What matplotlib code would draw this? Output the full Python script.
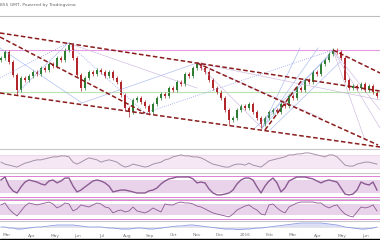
import matplotlib
matplotlib.use("Agg")
import matplotlib.pyplot as plt
import numpy as np

# daily-ish candles, one every 4 px (bar index), price in chart units
closes = [90, 96, 86, 73, 58, 70, 68, 72, 76, 74,
          80, 78, 84, 82, 90, 88, 98, 103, 90, 73,
          60, 70, 76, 74, 78, 76, 72, 76, 70, 66,
          53, 40, 36, 48, 50, 46, 42, 36, 44, 50,
          54, 52, 60, 58, 66, 64, 74, 72, 80, 84,
          80, 76, 68, 60, 56, 50, 38, 28, 30, 38,
          42, 40, 44, 36, 30, 24, 30, 36, 38, 36,
          44, 42, 52, 50, 60, 58, 68, 66, 76, 74,
          84, 88, 94, 98, 96, 90, 68, 60, 62, 60,
          64, 58, 62, 56, 52]
highs = [92, 98, 98, 88, 75, 72, 72, 74, 78, 78,
         82, 82, 86, 86, 92, 92, 100, 106, 105, 92,
         75, 72, 78, 78, 80, 80, 78, 78, 78, 72,
         68, 55, 42, 50, 52, 52, 48, 44, 46, 52,
         56, 56, 62, 62, 68, 68, 76, 76, 82, 86,
         86, 82, 78, 70, 62, 58, 52, 40, 32, 40,
         44, 44, 46, 46, 38, 32, 32, 38, 40, 40,
         46, 46, 54, 54, 62, 62, 70, 70, 78, 78,
         86, 90, 96, 100, 100, 98, 92, 70, 64, 64,
         66, 66, 64, 64, 58]
lows = [86, 88, 84, 71, 53, 56, 66, 66, 70, 72,
        72, 76, 76, 80, 80, 86, 86, 96, 88, 71,
        57, 58, 68, 72, 72, 74, 70, 70, 68, 64,
        51, 38, 31, 34, 46, 44, 40, 33, 34, 42,
        48, 50, 50, 56, 56, 62, 62, 70, 70, 78,
        78, 74, 66, 58, 54, 48, 36, 23, 26, 28,
        36, 38, 38, 34, 28, 20, 22, 28, 34, 34,
        34, 40, 40, 48, 48, 56, 56, 64, 64, 72,
        72, 82, 86, 92, 94, 88, 66, 58, 58, 58,
        58, 56, 56, 54, 50]
first_open = 88

rsi = [48, 42, 39, 36, 33, 39, 45, 48, 52, 55,
       55, 58, 61, 64, 64, 67, 67, 64, 48, 42,
       48, 55, 61, 58, 55, 48, 52, 55, 52, 48,
       39, 33, 36, 42, 39, 36, 33, 36, 42, 45,
       48, 55, 58, 64, 67, 70, 67, 67, 64, 64,
       61, 55, 48, 42, 39, 36, 33, 33, 39, 42,
       42, 39, 45, 39, 36, 33, 42, 52, 55, 58,
       61, 64, 70, 70, 73, 73, 76, 76, 73, 70,
       67, 64, 70, 70, 64, 52, 39, 36, 36, 42,
       45, 48, 48, 45, 42]
stoch = [81, 95, 52, 29, 19, 48, 71, 81, 76, 71,
         62, 57, 76, 81, 67, 76, 90, 90, 52, 24,
         33, 48, 62, 76, 81, 76, 67, 52, 24, 29,
         33, 33, 29, 24, 19, 19, 19, 29, 33, 43,
         62, 76, 86, 90, 95, 95, 95, 95, 86, 67,
         71, 67, 38, 19, 10, 10, 14, 19, 33, 62,
         81, 90, 90, 81, 48, 19, 52, 76, 90, 67,
         24, 43, 76, 86, 95, 95, 95, 90, 86, 76,
         67, 76, 81, 76, 71, 43, 14, 10, 14, 33,
         71, 62, 57, 71, 33]
willr = [74, 84, 53, 32, 16, 42, 68, 84, 79, 74,
         79, 84, 89, 79, 58, 68, 84, 79, 42, 53,
         74, 68, 63, 74, 84, 79, 63, 58, 32, 42,
         47, 37, 42, 63, 42, 37, 32, 42, 58, 47,
         37, 79, 74, 74, 84, 89, 84, 84, 79, 68,
         63, 53, 42, 32, 26, 21, 16, 11, 26, 47,
         58, 68, 74, 58, 47, 26, 21, 74, 79, 58,
         42, 32, 63, 74, 84, 89, 89, 89, 89, 84,
         84, 68, 58, 68, 74, 47, 26, 16, 11, 37,
         63, 58, 63, 74, 42]
macd = [0, 0, -1, -1, -2, -2, -1.5, -1, -0.5, 0,
        0, 0.5, 1, 1.5, 2, 2, 2, 2, 2, 1.5,
        1, 0.5, 0, 0, 0, 0, -0.5, -1, -1, -1.5,
        -2, -2, -2, -1.5, -1, -1, -1.5, -2, -2, -1.5,
        -1, -0.5, 0, 0.5, 1, 1, 1.5, 2, 2, 1.5,
        1, 0.5, 0, -0.5, -1, -1.5, -2, -2, -2, -2.5,
        -2.5, -2, -2, -1.5, -1, -1, -0.5, 0, 0.5, 1,
        1.5, 2, 2.5, 3, 3.5, 4, 4, 4, 4, 4,
        4, 3.5, 3, 2.5, 2, 1, 0, -0.5, -1, -1.5,
        -2, -2, -1.5, -1, 0]

month_labels = ["Mar", "Apr", "May", "Jun", "Jul", "Aug", "Sep", "Oct",
                "Nov", "Dec", "2016", "Feb", "Mar", "Apr", "May", "Jun"]
month_bars = [1.5, 7.75, 13.5, 19.25, 25.25, 31.5, 37.25, 43,
              49, 54.75, 61, 67, 73, 79.25, 85.25, 91.25]

# drawn trend lines (bar, price) -> (bar, price)
trend_lines = [((-0.25, 115), (94.75, 57)),
               ((-0.25, 55), (94.75, 1)),
               ((-0.25, 111), (36, 35)),
               ((49, 85), (94.25, 3)),
               ((66, 18), (75.25, 68)),
               ((83, 98), (94.75, 75))]
blue_lines = [((-0.25, 100), (20.25, 45)), ((20.25, 45), (49, 85)),
              ((4, 55), (16.75, 105)), ((65.25, 20), (83, 98)),
              ((63.5, 20), (82.25, 93)), ((67.25, 18), (84.75, 86)),
              ((65.25, 20), (79.25, 100)), ((65.25, 20), (74.75, 100))]
dotted_lines = [((36, 35), (83, 98)), ((16.75, 105), (36, 35)),
                ((-0.25, 70), (16.75, 105))]
purple_lines = [((49, 85), (65.25, 20)), ((83, 98), (94.75, 20)),
                ((83, 98), (94.75, 38)), ((83, 98), (91, 8)),
                ((49, 85), (94.75, 48)), ((49, 85), (80, 30)),
                ((16.75, 105), (49, 60))]
resistance = 98
support = 56

W, H = 380, 240
fig = plt.figure(figsize=(W / 100, H / 100), dpi=100)
fig.patch.set_facecolor("white")


def panel(top, bottom):
    ax = fig.add_axes([0, 1 - bottom / H, 1, (bottom - top) / H])
    ax.set_xlim(-0.25, 94.75)
    ax.set_xticks([])
    ax.set_yticks([])
    for s in ["left", "right", "bottom"]:
        ax.spines[s].set_visible(False)
    ax.spines["top"].set_color("#c8c8c8")
    ax.spines["top"].set_linewidth(0.8)
    return ax


x = np.arange(len(closes))
opens = [first_open] + closes[:-1]

ax = panel(17, 148)
ax.set_ylim(0, 131)
ax.spines["top"].set_visible(False)
ax.axhline(resistance, color="#e59be0", lw=0.8)
ax.axhline(support, color="#b9e3b0", lw=0.8)
for (a, b) in blue_lines:
    ax.plot([a[0], b[0]], [a[1], b[1]], color="#9db0ee", lw=0.5, alpha=0.8)
for (a, b) in dotted_lines:
    ax.plot([a[0], b[0]], [a[1], b[1]], color="#8e9de8", lw=0.6, ls=":")
for (a, b) in purple_lines:
    ax.plot([a[0], b[0]], [a[1], b[1]], color="#c7b0dc", lw=0.5, alpha=0.8)
for o, c, h, l, i in zip(opens, closes, highs, lows, x):
    col = "#2f7d32" if c >= o else "#b0262a"
    ax.vlines(i, l, h, color=col, lw=0.5)
    ax.bar(i, max(abs(c - o), 0.8), bottom=min(o, c), width=0.55, color=col, lw=0)
for (a, b) in trend_lines:
    ax.plot([a[0], b[0]], [a[1], b[1]], color="#8b1c1c", lw=1.1, ls=(0, (3, 1.6)))

# RSI panel
ax1 = panel(149, 172)
ax1.set_ylim(18, 88)
ax1.axhspan(30, 70, color="#f5e8f4", lw=0)
ax1.axhline(70, color="#ead0e8", lw=0.5)
ax1.axhline(30, color="#ead0e8", lw=0.5)
ax1.plot(x, rsi, color="#a690a8", lw=0.7)

# Stochastic panel
ax2 = panel(173, 198)
ax2.set_ylim(-4.8, 114)
ax2.axhspan(20, 80, color="#e9d3ea", lw=0)
ax2.axhline(100, color="#e07fd6", lw=0.7)
ax2.axhline(0, color="#e07fd6", lw=0.7)
ax2.plot(x, stoch, color="#8a5b92", lw=1.0)

# Williams %R style panel
ax3 = panel(199, 220)
ax3.set_ylim(-5.3, 105)
ax3.axhspan(20, 80, color="#e9d3ea", lw=0)
ax3.axhline(100, color="#e07fd6", lw=0.7)
ax3.axhline(0, color="#e07fd6", lw=0.7)
ax3.plot(x, willr, color="#8a5b92", lw=0.6)

# MACD panel
ax4 = panel(221, 232)
ax4.set_ylim(-5, 6)
ax4.axhline(0, color="#dddddd", lw=0.4)
ax4.fill_between(x, macd, 0, color="#dcdff5", lw=0)
ax4.plot(x, macd, color="#8c9be0", lw=0.6)

# time axis labels
axl = panel(232, 239)
axl.set_ylim(0, 1)
axl.spines["top"].set_visible(False)
for b, lab in zip(month_bars, month_labels):
    axl.text(b, 0.5, lab, fontsize=3.2, color="#777777", ha="center", va="center")

fig.add_artist(plt.Line2D([0, 1], [1 - 16 / H, 1 - 16 / H], color="#bdbdbd", lw=0.8))
fig.add_artist(plt.Rectangle((0, 0), 1, 1.5 / H, color="black"))
fig.text(0.0, 1 - 5 / H, "855 GMT, Powered by Tradingview.", fontsize=3.2,
         color="#666666", ha="left", va="center")

fig.savefig("out.png", dpi=100)
